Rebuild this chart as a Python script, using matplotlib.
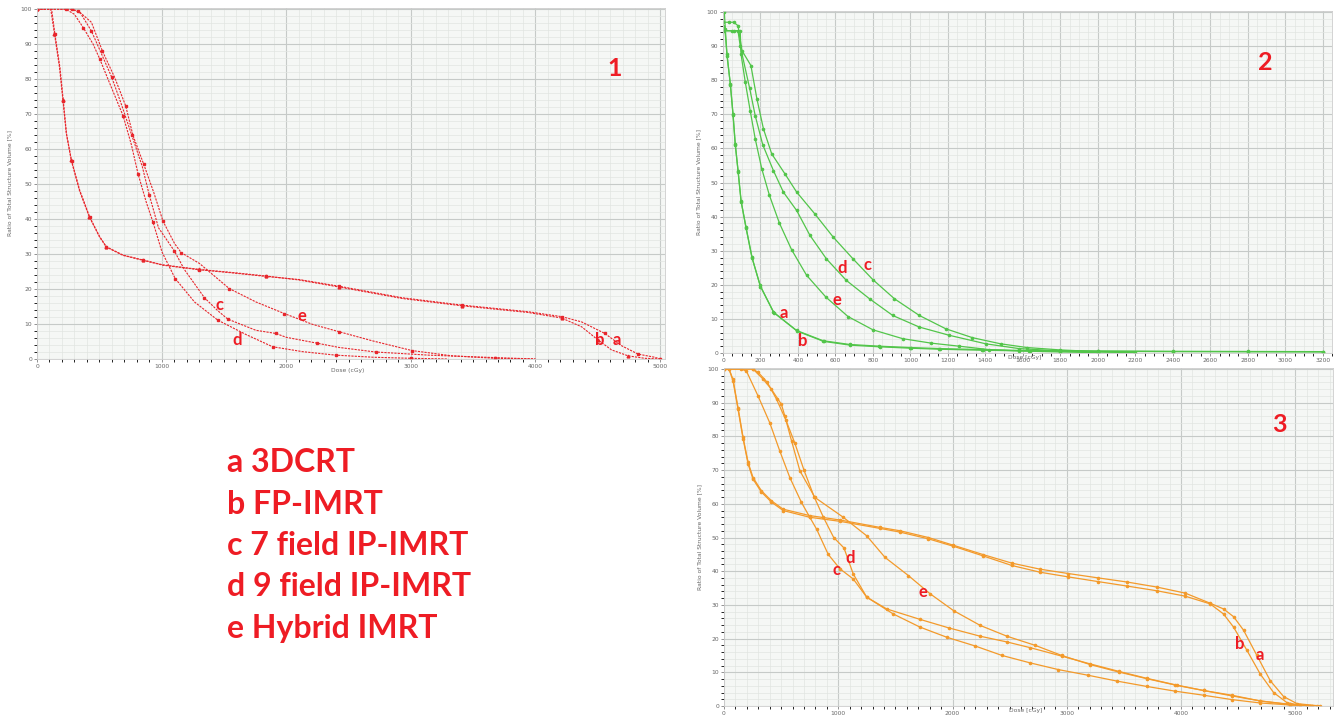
import matplotlib
matplotlib.use('Agg')
import matplotlib.pyplot as plt
from matplotlib.ticker import MultipleLocator

# ---- panel 1 (red) ----
p1_a_x = [0, 117, 144, 184, 211, 237, 277, 344, 424, 504, 557, 691, 851, 1011, 1304, 1571, 1837, 2104, 2424,
          2931, 3411, 3944, 4211, 4371, 4557, 4691, 4824, 4957, 5000]
p1_a_y = [100, 100, 92.8, 83.3, 73.8, 64.3, 56.7, 48.1, 40.5, 34.9, 32, 29.6, 28.2, 26.8, 25.5, 24.6, 23.6, 22.7, 20.8,
          17.5, 15.4, 13.5, 12.1, 10.6, 7.3, 3.8, 1.4, 0.5, 0]
p1_b_x = [0, 110, 140, 180, 208, 235, 275, 340, 420, 500, 555, 690, 850, 1010, 1300, 1570, 1840, 2100, 2420,
          2930, 3410, 3940, 4211, 4371, 4504, 4611, 4744, 4877, 5000]
p1_b_y = [100, 100, 93, 83.5, 74, 64.5, 56.8, 48.2, 40.6, 35, 32.1, 29.7, 28.3, 26.9, 25.6, 24.7, 23.7, 22.6, 20.6,
          17.3, 15.2, 13.3, 11.7, 9.2, 5.4, 2.6, 0.9, 0.2, 0]
p1_c_x = [0, 200, 280, 350, 437, 520, 600, 680, 760, 845, 900, 975, 1100, 1184, 1344, 1451, 1531, 1757, 1917, 2000,
          2251, 2424, 2717, 3144, 3677, 4000]
p1_c_y = [100, 100, 100, 98.8, 93.7, 87, 80.5, 72.5, 64, 55, 47, 37.5, 31, 25.5, 17.5, 13.8, 11.4, 8.2, 7.3, 6.2,
          4.5, 3.3, 2.0, 1.1, 0.4, 0]
p1_d_x = [0, 150, 230, 300, 371, 450, 504, 597, 691, 757, 811, 877, 931, 1003, 1109, 1264, 1451, 1677, 1891, 2131,
          2397, 2700, 3000, 3300]
p1_d_y = [100, 100, 100, 98.5, 94.7, 90, 85.7, 77.6, 69.5, 61.3, 52.9, 44.8, 39.1, 30.6, 23, 16.3, 11.1, 7.0, 3.5, 2.1,
          1.1, 0.5, 0.2, 0]
p1_e_x = [0, 250, 330, 437, 525, 624, 712, 771, 856, 936, 1011, 1104, 1157, 1304, 1544, 1757, 1984, 2211, 2424,
          2691, 3011, 3331, 3677, 4000]
p1_e_y = [100, 100, 99.5, 96.2, 88, 80.4, 72.3, 63.8, 55.7, 47.7, 39.4, 33.0, 30.4, 27.3, 20.1, 16.3, 13.0, 9.9, 7.8,
          5.2, 2.4, 0.9, 0.2, 0]

# ---- panel 2 (green) ----
p2_a_x = [0, 7, 21, 39, 53, 65, 80, 96, 122, 154, 198, 269, 393, 534, 676, 835, 1000, 1154, 1384, 1632, 2000, 2400,
          2800, 3200]
p2_a_y = [100, 100, 87.7, 78.9, 70.1, 61.3, 53.5, 44.7, 36.9, 28.1, 19.8, 12, 6.6, 3.6, 2.5, 2.0, 1.6, 1.3, 1.0, 0.7,
          0.6, 0.5, 0.45, 0.4]
p2_b_x = [0, 10, 22, 40, 54, 66, 81, 97, 124, 156, 200, 272, 396, 537, 680, 840, 1005, 1160, 1390, 1640, 2000, 2400,
          2800, 3200]
p2_b_y = [96, 95, 87, 78.5, 69.8, 61, 53.2, 44.4, 36.6, 27.8, 19.5, 11.8, 6.4, 3.4, 2.3, 1.8, 1.4, 1.1, 0.8, 0.6,
          0.5, 0.4, 0.35, 0.3]
p2_c_x = [0, 30, 57, 80, 101, 149, 181, 216, 260, 331, 393, 490, 588, 694, 800, 915, 1048, 1189, 1331, 1481, 1623,
          1800, 2000, 2200]
p2_c_y = [97, 97, 97, 96, 88.7, 84.3, 74.5, 65.7, 58.4, 52.5, 47.2, 40.8, 34, 27.6, 21.5, 15.9, 11, 7.1, 4.5, 2.7, 1.6,
          0.9, 0.4, 0.1]
p2_d_x = [0, 48, 80, 92, 142, 172, 212, 269, 322, 393, 464, 552, 658, 782, 906, 1048, 1207, 1402, 1579, 1800, 2000, 2200]
p2_d_y = [94.5, 94.5, 94.5, 90, 77.7, 69.6, 61.1, 53.5, 47.2, 41.8, 34.5, 27.6, 21.3, 15.9, 11, 7.6, 5.2, 2.7, 1.3,
          0.6, 0.3, 0.1]
p2_e_x = [0, 60, 92, 96, 119, 145, 172, 207, 248, 301, 366, 446, 549, 667, 800, 959, 1110, 1260, 1419, 1579, 1800, 2000]
p2_e_y = [94.5, 94.5, 94.5, 87.7, 79.4, 71.1, 62.8, 54, 46.2, 38.1, 30.3, 22.8, 16.4, 10.7, 6.8, 4.2, 2.9, 2, 1, 0.6,
          0.3, 0.1]

# ---- panel 3 (orange) ----
p3_a_x = [0, 44, 79, 123, 167, 211, 254, 327, 415, 518, 751, 1015, 1365, 1541, 1789, 2008, 2271, 2519, 2766, 3015,
          3277, 3526, 3788, 4036, 4255, 4372, 4460, 4547, 4664, 4781, 4898, 5015, 5219]
p3_a_y = [100, 100, 96.9, 88.5, 79.7, 72.3, 67.8, 63.9, 60.9, 58.4, 56.5, 55.2, 53, 52, 50, 47.7, 44.9, 42.4, 40.6,
          39.3, 38, 36.8, 35.3, 33.5, 30.5, 28.8, 26.5, 22.5, 15, 7.5, 2.8, 0.7, 0]
p3_b_x = [0, 44, 79, 123, 167, 211, 254, 327, 415, 518, 751, 1015, 1365, 1541, 1789, 2008, 2271, 2519, 2766, 3015,
          3277, 3526, 3788, 4036, 4255, 4372, 4460, 4577, 4693, 4810, 4927, 5044, 5130]
p3_b_y = [100, 100, 96.5, 88, 79.3, 71.8, 67.3, 63.5, 60.5, 58, 56, 54.8, 52.7, 51.6, 49.6, 47.4, 44.5, 41.7, 39.7,
          38.3, 36.9, 35.6, 34.2, 32.6, 30.3, 27.3, 23.4, 16.5, 9.5, 4.0, 1.0, 0.2, 0]
p3_c_x = [0, 150, 196, 298, 401, 488, 576, 678, 751, 810, 912, 1015, 1131, 1249, 1424, 1716, 1965, 2243, 2477, 2681,
          2956, 3204, 3453, 3701, 3949, 4197, 4445, 4693, 4956, 5150]
p3_c_y = [100, 100, 99.4, 92, 84, 75.7, 67.8, 60.4, 56, 52.5, 45, 40.7, 37.7, 32.3, 28.8, 25.7, 23.2, 20.7, 19, 17.3,
          14.8, 12.5, 10.3, 8.2, 6.3, 4.6, 3, 1.5, 0.4, 0]
p3_d_x = [0, 250, 300, 380, 460, 540, 620, 700, 790, 870, 960, 1050, 1131, 1249, 1482, 1716, 1950, 2199, 2433, 2679,
          2927, 3190, 3438, 3701, 3949, 4197, 4445, 4693, 4956, 5100]
p3_d_y = [100, 100, 99, 96, 91, 85, 78, 70, 62, 56, 50, 46.9, 39.2, 32.3, 27.3, 23.4, 20.4, 17.8, 15, 12.8, 10.8, 9.1,
          7.4, 5.8, 4.4, 3.2, 1.9, 0.9, 0.3, 0]
p3_e_x = [0, 254, 342, 415, 503, 532, 591, 664, 795, 1044, 1249, 1409, 1614, 1804, 2009, 2243, 2477, 2723, 2956, 3204,
          3453, 3701, 3964, 4197, 4445, 4693, 4956, 5190]
p3_e_y = [100, 100, 97, 94, 89.5, 86.1, 78.7, 69.8, 61.9, 56, 50.5, 44.1, 38.7, 33.3, 28.3, 23.9, 20.7, 18, 15, 12.3,
          10.1, 8.1, 6.1, 4.6, 3.2, 1.5, 0.5, 0]

legend_lines = ['a 3DCRT', 'b FP-IMRT', 'c 7 field IP-IMRT', 'd 9 field IP-IMRT', 'e Hybrid IMRT']

RED = '#ee1c24'
W, H = 1341, 715


def style(ax, xmax, xmajor, xminor):
    ax.set_facecolor('#f5f7f5')
    ax.set_xlim(0, xmax)
    ax.set_ylim(0, 100.3)
    ax.xaxis.set_major_locator(MultipleLocator(xmajor))
    ax.xaxis.set_minor_locator(MultipleLocator(xminor))
    ax.yaxis.set_major_locator(MultipleLocator(10))
    ax.yaxis.set_minor_locator(MultipleLocator(2))
    ax.grid(which='major', color='#c6cac8', lw=0.8)
    ax.grid(which='minor', color='#e1e5e1', lw=0.5)
    ax.set_axisbelow(True)
    ax.tick_params(labelsize=4.3, colors='#666666', length=2, width=0.5, pad=1.5)
    for s in ax.spines.values():
        s.set_color('#cccccc')
        s.set_linewidth(0.6)


def box(l, t, r, b):
    return [l / W, 1 - b / H, (r - l) / W, (b - t) / H]


fig = plt.figure(figsize=(13.41, 7.15), dpi=100)
ax1 = fig.add_axes(box(37, 8, 665, 359))
ax2 = fig.add_axes(box(723, 11, 1332, 353))
ax3 = fig.add_axes(box(724, 368, 1333, 706))

style(ax1, 5040, 1000, 100)
style(ax2, 3250, 200, 50)
style(ax3, 5330, 1000, 100)

# panel 1
for xs, ys, m in [(p1_a_x, p1_a_y, 's'), (p1_b_x, p1_b_y, '^'), (p1_c_x, p1_c_y, 's'),
                  (p1_d_x, p1_d_y, 's'), (p1_e_x, p1_e_y, 's')]:
    ax1.plot(xs, ys, color='#e8262c', lw=0.8, ls=(0, (2, 1)), marker=m, ms=2.0, markevery=2)
ax1.set_xlabel('Dose (cGy)', fontsize=4.3, color='#666666', labelpad=2)
ax1.xaxis.set_label_coords(0.495, -0.025)
ax1.set_ylabel('Ratio of Total Structure Volume [%]', fontsize=4.3, color='#666666', labelpad=6)

# panel 2
for xs, ys in [(p2_a_x, p2_a_y), (p2_b_x, p2_b_y), (p2_c_x, p2_c_y), (p2_d_x, p2_d_y), (p2_e_x, p2_e_y)]:
    ax2.plot(xs, ys, color='#52c54a', lw=0.9, marker='o', ms=1.6, markevery=1)
ax2.set_xlabel('Dose [cGy]', fontsize=4.3, color='#666666')
ax2.xaxis.set_label_coords(0.495, -0.005)
ax2.set_ylabel('Ratio of Total Structure Volume [%]', fontsize=4.3, color='#666666', labelpad=4)

# panel 3
for xs, ys in [(p3_a_x, p3_a_y), (p3_b_x, p3_b_y), (p3_c_x, p3_c_y), (p3_d_x, p3_d_y), (p3_e_x, p3_e_y)]:
    ax3.plot(xs, ys, color='#f39a2b', lw=0.9, marker='o', ms=1.6, markevery=1)
ax3.set_xlabel('Dose [cGy]', fontsize=4.3, color='#666666')
ax3.xaxis.set_label_coords(0.495, -0.005)
ax3.set_ylabel('Ratio of Total Structure Volume [%]', fontsize=4.3, color='#666666', labelpad=4)

lab = dict(color=RED, fontsize=12, fontweight='bold', family='Lato', ha='center', va='center')
for ax, pts in [(ax1, [('c', 1464, 15.4), ('e', 2128, 12.3), ('d', 1608, 5.4), ('b', 4512, 5.4), ('a', 4656, 5.4)]),
                (ax2, [('a', 325, 11.7), ('b', 427, 3.5), ('e', 608, 15.5), ('d', 635, 24.8), ('c', 773, 25.7)]),
                (ax3, [('d', 1103, 44), ('c', 981, 40.5), ('e', 1743, 33.7), ('b', 4510, 18.3), ('a', 4693, 15)])]:
    for t, x, y in pts:
        ax.text(x, y, t, **lab)

num = dict(color=RED, fontsize=18, fontweight='bold', family='Lato', ha='center', va='center')
fig.text(615 / W, 1 - 68 / H, '1', **num)
fig.text(1265 / W, 1 - 63 / H, '2', **num)
fig.text(1279 / W, 1 - 425 / H, '3', **num)

for i, s in enumerate(legend_lines):
    fig.text(227 / W, 1 - (463 + 41.3 * i) / H, s, color=RED, fontsize=23, fontweight='bold',
             family='Lato', ha='left', va='center')

fig.savefig('out.png', dpi=100)
